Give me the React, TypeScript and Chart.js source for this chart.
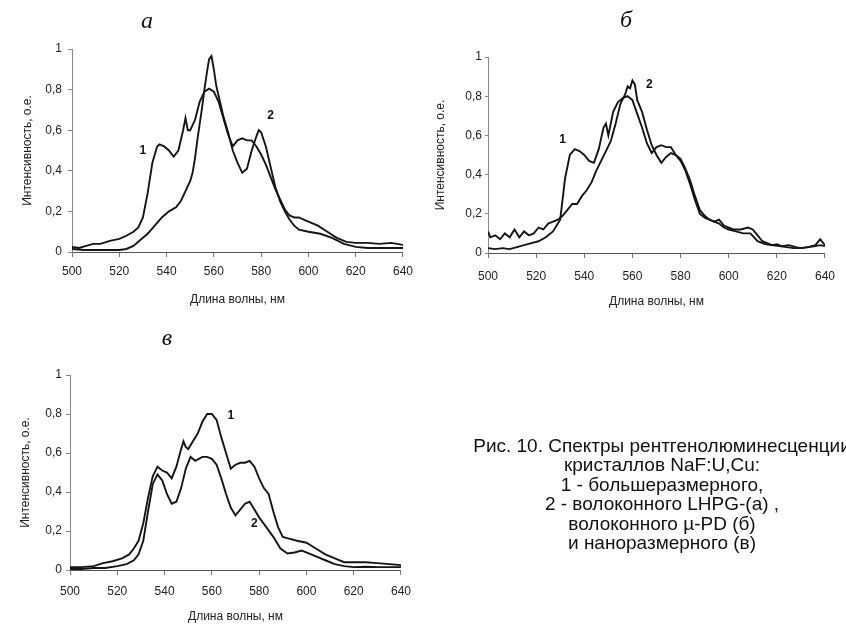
import React, { useEffect, useRef } from 'react';
import { Chart, registerables } from 'chart.js';

Chart.register(...registerables);

// ---------- axis texts ----------
const xAxisTitle = 'Длина волны, нм';
const yAxisTitle = 'Интенсивность, о.е.';
const xMin = 500;
const xMax = 640;
const xStep = 20;
const yMin = 0;
const yMax = 1;
const yStep = 0.2;

// ---------- panel а ----------
const aWl1 = [500, 503, 506, 509, 512, 516, 520, 523, 526, 528, 530, 532, 534, 536, 537, 539, 541, 543, 545, 547, 548, 549, 550, 552, 554, 556, 558, 560, 562, 564, 566, 568, 570, 572, 574, 576, 578, 580, 582, 584, 586, 588, 590, 592, 594, 596, 598, 600, 604, 608, 612, 616, 620, 625, 630, 635, 640];
const aInt1 = [0.025, 0.02, 0.03, 0.04, 0.04, 0.055, 0.065, 0.08, 0.1, 0.12, 0.17, 0.29, 0.44, 0.52, 0.53, 0.52, 0.5, 0.47, 0.5, 0.6, 0.66, 0.6, 0.6, 0.65, 0.74, 0.79, 0.805, 0.79, 0.74, 0.66, 0.58, 0.52, 0.55, 0.56, 0.55, 0.55, 0.52, 0.48, 0.43, 0.37, 0.31, 0.26, 0.21, 0.18, 0.17, 0.17, 0.16, 0.15, 0.13, 0.1, 0.07, 0.05, 0.045, 0.045, 0.04, 0.045, 0.035];
const aWl2 = [500, 505, 510, 515, 520, 523, 526, 529, 532, 535, 538, 541, 544, 546, 548, 550, 551, 552, 553, 554, 555, 556, 557, 558, 559, 560, 561, 562, 564, 566, 568, 570, 572, 574, 576, 578, 579, 580, 582, 584, 586, 588, 590, 592, 594, 596, 600, 605, 610, 615, 620, 625, 630, 635, 640];
const aInt2 = [0.015, 0.01, 0.01, 0.01, 0.01, 0.015, 0.03, 0.06, 0.09, 0.13, 0.17, 0.2, 0.22, 0.25, 0.3, 0.35, 0.39, 0.46, 0.55, 0.63, 0.71, 0.8, 0.88, 0.95, 0.965, 0.9, 0.82, 0.77, 0.67, 0.59, 0.5, 0.44, 0.39, 0.41, 0.5, 0.57, 0.6, 0.59, 0.52, 0.42, 0.32, 0.25, 0.2, 0.16, 0.13, 0.11, 0.1, 0.09, 0.07, 0.04, 0.025, 0.02, 0.02, 0.02, 0.02];
const aMarkText = ['1', '2'];
const aMarkWl = [530, 584];
const aMarkInt = [0.5, 0.67];

// ---------- panel б ----------
const bWl1 = [500, 503, 506, 509, 512, 515, 518, 521, 524, 527, 530, 532, 534, 536, 538, 540, 542, 544, 546, 548, 549, 550, 552, 554, 556, 558, 560, 562, 564, 566, 568, 570, 572, 574, 576, 578, 580, 582, 584, 586, 588, 590, 592, 594, 596, 598, 600, 603, 606, 609, 612, 615, 618, 621, 624, 627, 630, 633, 636, 638, 640];
const bInt1 = [0.025, 0.02, 0.025, 0.02, 0.03, 0.04, 0.05, 0.06, 0.08, 0.11, 0.17, 0.38, 0.5, 0.53, 0.52, 0.5, 0.47, 0.46, 0.53, 0.64, 0.66, 0.6, 0.72, 0.77, 0.79, 0.8, 0.78, 0.71, 0.64, 0.56, 0.51, 0.54, 0.55, 0.54, 0.54, 0.5, 0.47, 0.42, 0.35, 0.27, 0.2, 0.18, 0.17, 0.16, 0.15, 0.13, 0.12, 0.11, 0.1, 0.1, 0.06, 0.045, 0.04, 0.035, 0.03, 0.025, 0.025, 0.03, 0.035, 0.04, 0.035];
const bWl2 = [500, 501, 503, 505, 507, 509, 511, 513, 515, 517, 519, 521, 523, 525, 527, 529, 531, 533, 535, 537, 539, 541, 543, 545, 547, 549, 551, 553, 555, 557, 558, 559, 560, 561, 562, 564, 566, 568, 570, 572, 574, 576, 578, 580, 582, 584, 586, 588, 590, 592, 594, 596, 598, 600, 602, 605, 608, 610, 612, 614, 616, 618, 620, 622, 625, 628, 630, 633, 636, 638, 640];
const bInt2 = [0.11, 0.08, 0.09, 0.07, 0.1, 0.08, 0.12, 0.08, 0.11, 0.09, 0.1, 0.13, 0.12, 0.15, 0.16, 0.17, 0.19, 0.22, 0.25, 0.25, 0.29, 0.32, 0.36, 0.42, 0.47, 0.52, 0.57, 0.66, 0.76, 0.81, 0.85, 0.84, 0.88, 0.86, 0.78, 0.72, 0.63, 0.55, 0.5, 0.46, 0.49, 0.51, 0.5, 0.48, 0.43, 0.37, 0.29, 0.22, 0.19, 0.17, 0.16, 0.17, 0.14, 0.13, 0.12, 0.12, 0.13, 0.12, 0.09, 0.06, 0.05, 0.04, 0.045, 0.035, 0.04, 0.03, 0.025, 0.03, 0.04, 0.07, 0.04];
const bMarkText = ['1', '2'];
const bMarkWl = [531, 567];
const bMarkInt = [0.58, 0.86];

// ---------- panel в ----------
const cWl1 = [500, 505, 510, 514, 518, 522, 525, 527, 529, 531, 533, 535, 537, 539, 541, 543, 545, 547, 548, 549, 550, 552, 554, 556, 558, 560, 562, 564, 566, 568, 570, 572, 574, 576, 578, 580, 582, 584, 586, 588, 590, 593, 596, 600, 604, 608, 612, 616, 620, 625, 630, 635, 640];
const cInt1 = [0.015, 0.015, 0.02, 0.035, 0.045, 0.06, 0.08, 0.11, 0.15, 0.24, 0.37, 0.48, 0.53, 0.51, 0.5, 0.47, 0.53, 0.62, 0.66, 0.63, 0.62, 0.66, 0.7, 0.76, 0.8, 0.8, 0.77, 0.68, 0.6, 0.52, 0.54, 0.55, 0.55, 0.56, 0.53, 0.47, 0.42, 0.39, 0.3, 0.22, 0.17, 0.16, 0.15, 0.14, 0.11, 0.08, 0.06, 0.04, 0.04, 0.04, 0.035, 0.03, 0.025];
const cWl2 = [500, 505, 510, 515, 520, 524, 527, 529, 531, 533, 535, 537, 539, 541, 543, 545, 547, 549, 551, 553, 556, 558, 560, 562, 564, 566, 568, 570, 572, 574, 576, 578, 580, 583, 586, 589, 592, 595, 598, 601, 604, 608, 612, 616, 620, 625, 630, 635, 640];
const cInt2 = [0.005, 0.005, 0.01, 0.01, 0.02, 0.03, 0.05, 0.08, 0.15, 0.3, 0.44, 0.49, 0.46, 0.39, 0.34, 0.35, 0.42, 0.52, 0.58, 0.56, 0.58, 0.58, 0.57, 0.54, 0.47, 0.39, 0.32, 0.28, 0.31, 0.34, 0.35, 0.31, 0.27, 0.22, 0.17, 0.11, 0.085, 0.09, 0.1, 0.085, 0.07, 0.05, 0.03, 0.02, 0.015, 0.017, 0.015, 0.015, 0.015];
const cMarkText = ['1', '2'];
const cMarkWl = [568, 578];
const cMarkInt = [0.79, 0.24];

// ---------- caption ----------
const captionLines = [
  'Рис. 10. Спектры рентгенолюминесценции',
  'кристаллов NaF:U,Cu:',
  '1 - большеразмерного,',
  '2 - волоконного LHPG-(а) ,',
  'волоконного µ-PD (б)',
  'и наноразмерного (в)',
];

const SANS = '"Liberation Sans", Arial, sans-serif';

interface PanelCfg {
  left: number;
  top: number;
  width: number;
  height: number;
  yAxisW: number;
  padTop: number;
  padRight: number;
  areaBottom: number;
  xTickLen: number;
  xTickPad: number;
  xTitlePadBottom: number;
  yTickLen: number;
  yTickPad: number;
  yTitlePad: number;
  series: [number[], number[]][];
  markText: string[];
  markWl: number[];
  markInt: number[];
}

function fmtY(v: number): string {
  return String(Math.round(v * 10) / 10).replace('.', ',');
}

function Panel(p: PanelCfg) {
  const ref = useRef<HTMLCanvasElement | null>(null);
  useEffect(() => {
    if (!ref.current) return;
    const xAxisH = p.height - p.areaBottom;
    const tickFont = { family: SANS, size: 12 };
    const marksPlugin = {
      id: 'marks',
      afterDatasetsDraw(chart: any) {
        const { ctx } = chart;
        const xs = chart.scales.x;
        const ys = chart.scales.y;
        ctx.save();
        ctx.font = `bold 12px ${SANS}`;
        ctx.fillStyle = '#111';
        ctx.textAlign = 'center';
        ctx.textBaseline = 'middle';
        p.markText.forEach((t, i) => {
          ctx.fillText(t, xs.getPixelForValue(p.markWl[i]), ys.getPixelForValue(p.markInt[i]));
        });
        ctx.restore();
      },
    };
    const chart = new Chart(ref.current, {
      type: 'line',
      data: {
        datasets: p.series.map(([xs, ys]) => ({
          data: xs.map((x, i) => ({ x, y: ys[i] })),
          borderColor: '#151515',
          borderWidth: 1.9,
          pointRadius: 0,
          fill: false,
          tension: 0,
        })),
      },
      options: {
        animation: false,
        responsive: false,
        maintainAspectRatio: false,
        layout: { padding: { top: p.padTop, right: p.padRight, left: 0, bottom: 0 } },
        plugins: {
          legend: { display: false },
          tooltip: { enabled: false },
          title: { display: false },
        },
        scales: {
          x: {
            type: 'linear',
            min: xMin,
            max: xMax,
            ticks: {
              stepSize: xStep,
              color: '#222',
              font: tickFont,
              padding: p.xTickPad,
              maxRotation: 0,
              autoSkip: false,
            },
            grid: { drawOnChartArea: false, drawTicks: true, tickLength: p.xTickLen, color: '#777' },
            border: { display: true, color: '#555', width: 1 },
            title: {
              display: true,
              text: xAxisTitle,
              color: '#222',
              font: tickFont,
              padding: { top: 0, bottom: p.xTitlePadBottom },
            },
            afterFit: (s: any) => {
              s.height = xAxisH;
            },
          },
          y: {
            type: 'linear',
            min: yMin,
            max: yMax,
            ticks: {
              stepSize: yStep,
              color: '#222',
              font: tickFont,
              padding: p.yTickPad,
              callback: (v: any) => fmtY(Number(v)),
            },
            grid: { drawOnChartArea: false, drawTicks: true, tickLength: p.yTickLen, color: '#888' },
            border: { display: true, color: '#888', width: 1 },
            title: {
              display: true,
              text: yAxisTitle,
              color: '#222',
              font: tickFont,
              padding: { top: p.yTitlePad, bottom: 0 },
            },
            afterFit: (s: any) => {
              s.width = p.yAxisW;
            },
          },
        },
      } as any,
      plugins: [marksPlugin],
    });
    return () => chart.destroy();
  }, []);
  return (
    <canvas
      ref={ref}
      width={p.width}
      height={p.height}
      style={{ position: 'absolute', left: p.left, top: p.top, width: p.width, height: p.height, display: 'block' }}
    />
  );
}

const letterStyle: React.CSSProperties = {
  position: 'absolute',
  fontFamily: '"Liberation Serif", "Times New Roman", serif',
  fontStyle: 'italic',
  fontSize: 24,
  color: '#111',
  transform: 'translate(-50%, -50%)',
  lineHeight: 1,
};

export default function App() {
  return (
    <div
      style={{
        position: 'absolute',
        left: 0,
        top: 0,
        width: 846,
        height: 624,
        overflow: 'hidden',
        background: '#fff',
      }}
    >
      <Panel
        left={0}
        top={0}
        width={420}
        height={315}
        yAxisW={72}
        padTop={49}
        padRight={17}
        areaBottom={252}
        xTickLen={5}
        xTickPad={7}
        xTitlePadBottom={8}
        yTickLen={4}
        yTickPad={6}
        yTitlePad={20}
        series={[
          [aWl1, aInt1],
          [aWl2, aInt2],
        ]}
        markText={aMarkText}
        markWl={aMarkWl}
        markInt={aMarkInt}
      />
      <Panel
        left={420}
        top={0}
        width={426}
        height={315}
        yAxisW={68}
        padTop={57}
        padRight={13}
        areaBottom={253}
        xTickLen={5}
        xTickPad={11}
        xTitlePadBottom={6}
        yTickLen={3}
        yTickPad={3}
        yTitlePad={13}
        series={[
          [bWl1, bInt1],
          [bWl2, bInt2],
        ]}
        markText={bMarkText}
        markWl={bMarkWl}
        markInt={bMarkInt}
      />
      <Panel
        left={0}
        top={320}
        width={420}
        height={304}
        yAxisW={70}
        padTop={55}
        padRight={15}
        areaBottom={250}
        xTickLen={5}
        xTickPad={9}
        xTitlePadBottom={0}
        yTickLen={4}
        yTickPad={4}
        yTitlePad={18}
        series={[
          [cWl1, cInt1],
          [cWl2, cInt2],
        ]}
        markText={cMarkText}
        markWl={cMarkWl}
        markInt={cMarkInt}
      />
      <span style={{ ...letterStyle, left: 147, top: 20 }}>а</span>
      <span style={{ ...letterStyle, left: 626, top: 19 }}>б</span>
      <span style={{ ...letterStyle, left: 167, top: 337 }}>в</span>
      <div
        style={{
          position: 'absolute',
          left: 412,
          top: 436,
          width: 500,
          textAlign: 'center',
          fontFamily: SANS,
          fontSize: 19,
          lineHeight: '19.4px',
          color: '#111',
          whiteSpace: 'nowrap',
        }}
      >
        {captionLines.map((l, i) => (
          <div key={i}>{l}</div>
        ))}
      </div>
    </div>
  );
}
